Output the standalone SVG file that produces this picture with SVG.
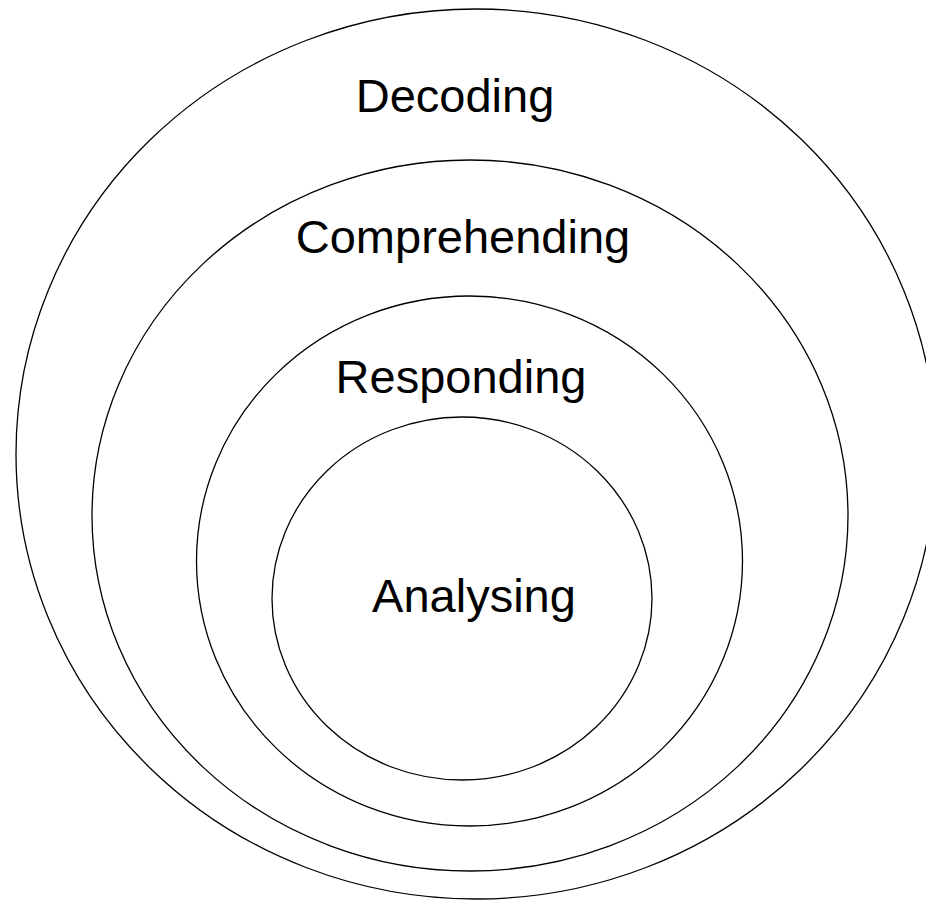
<svg xmlns="http://www.w3.org/2000/svg" width="926" height="901" viewBox="0 0 926 901">
<style>
.ring{fill:none;stroke:#000;stroke-width:1.3}
.lbl{font-family:"Liberation Sans",Arial,sans-serif;font-size:47px;fill:#000;text-anchor:middle}
</style>
<rect width="926" height="901" fill="#fff"/>
<g id="decoding">
<ellipse class="ring" cx="476" cy="454" rx="460" ry="445"/>
<text class="lbl" x="455" y="112">Decoding</text>
</g>
<g id="comprehending">
<ellipse class="ring" cx="470" cy="515.5" rx="378" ry="355.5"/>
<text class="lbl" x="463" y="253">Comprehending</text>
</g>
<g id="responding">
<ellipse class="ring" cx="469.5" cy="561" rx="273" ry="265"/>
<text class="lbl" x="461" y="393">Responding</text>
</g>
<g id="analysing">
<ellipse class="ring" cx="462" cy="598.5" rx="190" ry="181.5"/>
<text class="lbl" x="474" y="612">Analysing</text>
</g>
<g id="connectors"/>
</svg>
